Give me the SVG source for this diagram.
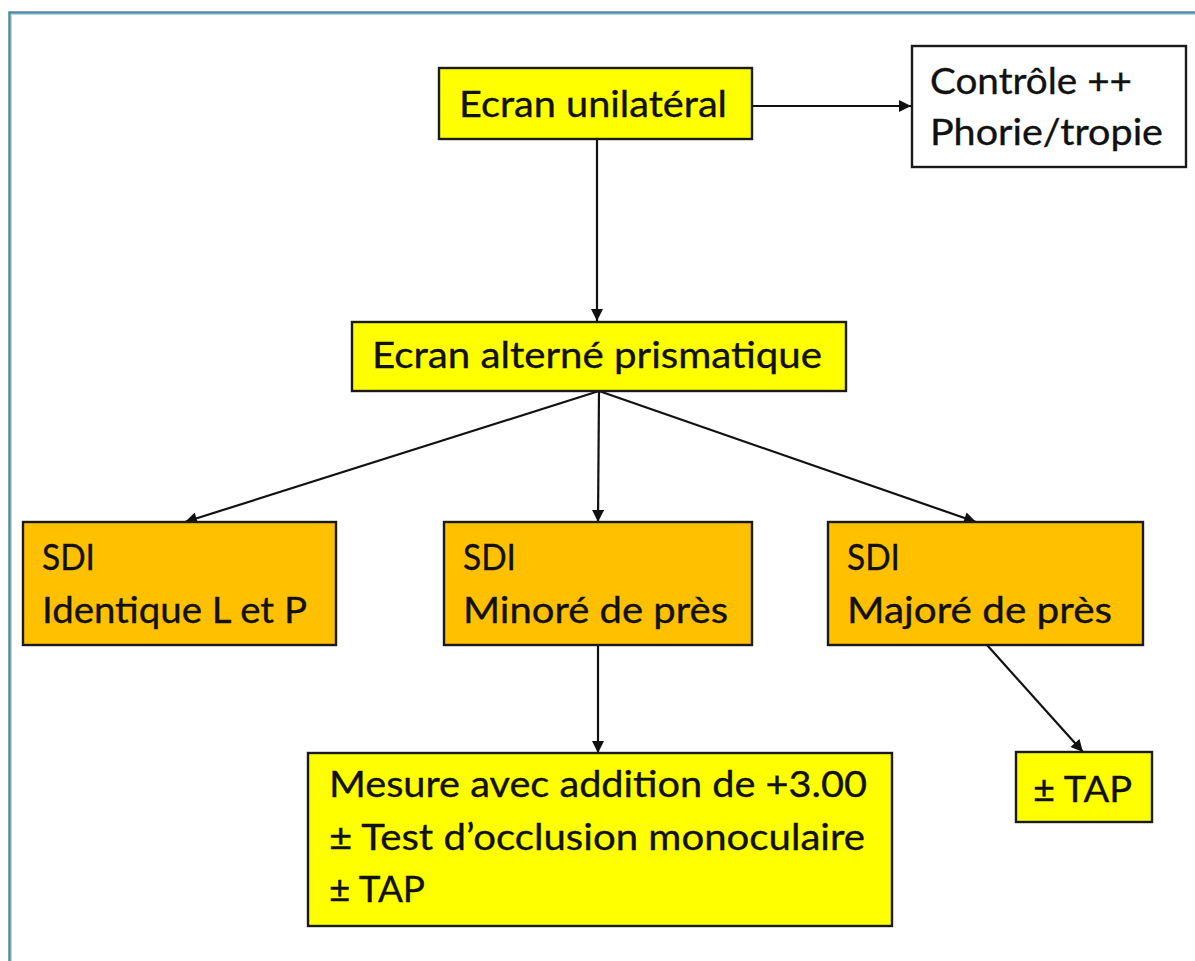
<svg xmlns="http://www.w3.org/2000/svg" width="1195" height="961" viewBox="0 0 1195 961">
<defs>
<marker id="ah" viewBox="0 0 10 10" refX="10" refY="5" markerWidth="13" markerHeight="12" markerUnits="userSpaceOnUse" orient="auto">
<path d="M0,0 L10,5 L0,10 z" fill="#111"/>
</marker>
</defs>
<style>
.box{stroke:#1a1a1a;stroke-width:2.4}
.y{fill:#FFFF00}
.o{fill:#FFC000}
.w{fill:#FFFFFF}
.t{font-family:Lato,"Liberation Sans",sans-serif;font-size:37px;fill:#111;stroke:#111;stroke-width:0.35}
.c{stroke:#111;stroke-width:2.2;fill:none;marker-end:url(#ah)}
</style>
<rect x="0" y="0" width="1195" height="961" fill="#fff"/>
<rect x="9.5" y="12.5" width="1200" height="1000" fill="none" stroke="#4f8ca2" stroke-width="2.5"/>
<rect x="11.5" y="14.5" width="1200" height="1000" fill="none" stroke="#b9dbe8" stroke-width="1"/>

<g id="connectors">
<line class="c" x1="752" y1="106" x2="911" y2="106"/>
<line class="c" x1="597" y1="139" x2="597" y2="321"/>
<line class="c" x1="599" y1="391" x2="185" y2="522"/>
<line class="c" x1="599" y1="391" x2="598" y2="522"/>
<line class="c" x1="599" y1="391" x2="976" y2="522"/>
<line class="c" x1="598" y1="645" x2="598" y2="753"/>
<line class="c" x1="987" y1="645" x2="1083" y2="752"/>
</g>

<g id="n-ecran-unilateral">
<rect class="box y" x="439" y="68" width="313" height="71"/>
<text class="t" x="459" y="117" textLength="268" lengthAdjust="spacingAndGlyphs">Ecran unilatéral</text>
</g>

<g id="n-controle">
<rect class="box w" x="912" y="46" width="274" height="121"/>
<text class="t" x="930" y="94" textLength="202" lengthAdjust="spacingAndGlyphs">Contrôle ++</text>
<text class="t" x="930" y="145" textLength="233" lengthAdjust="spacingAndGlyphs">Phorie/tropie</text>
</g>

<g id="n-ecran-alterne">
<rect class="box y" x="352" y="322" width="494" height="69"/>
<text class="t" x="372" y="368" textLength="450" lengthAdjust="spacingAndGlyphs">Ecran alterné prismatique</text>
</g>

<g id="n-sdi-identique">
<rect class="box o" x="23" y="522" width="313" height="123"/>
<text class="t" x="42" y="570" textLength="53" lengthAdjust="spacingAndGlyphs">SDI</text>
<text class="t" x="42" y="623" textLength="265" lengthAdjust="spacingAndGlyphs">Identique L et P</text>
</g>

<g id="n-sdi-minore">
<rect class="box o" x="444" y="522" width="308" height="123"/>
<text class="t" x="463" y="570" textLength="53" lengthAdjust="spacingAndGlyphs">SDI</text>
<text class="t" x="463" y="623" textLength="265" lengthAdjust="spacingAndGlyphs">Minoré de près</text>
</g>

<g id="n-sdi-majore">
<rect class="box o" x="828" y="522" width="315" height="123"/>
<text class="t" x="847" y="570" textLength="53" lengthAdjust="spacingAndGlyphs">SDI</text>
<text class="t" x="847" y="623" textLength="265" lengthAdjust="spacingAndGlyphs">Majoré de près</text>
</g>

<g id="n-mesure">
<rect class="box y" x="308" y="753" width="584" height="173"/>
<text class="t" x="329" y="797" textLength="538" lengthAdjust="spacingAndGlyphs">Mesure avec addition de +3.00</text>
<text class="t" x="329" y="850" textLength="536" lengthAdjust="spacingAndGlyphs">± Test d’occlusion monoculaire</text>
<text class="t" x="329" y="902" textLength="96" lengthAdjust="spacingAndGlyphs">± TAP</text>
</g>

<g id="n-tap">
<rect class="box y" x="1016" y="752" width="136" height="70"/>
<text class="t" x="1033" y="802" textLength="99" lengthAdjust="spacingAndGlyphs">± TAP</text>
</g>
</svg>
